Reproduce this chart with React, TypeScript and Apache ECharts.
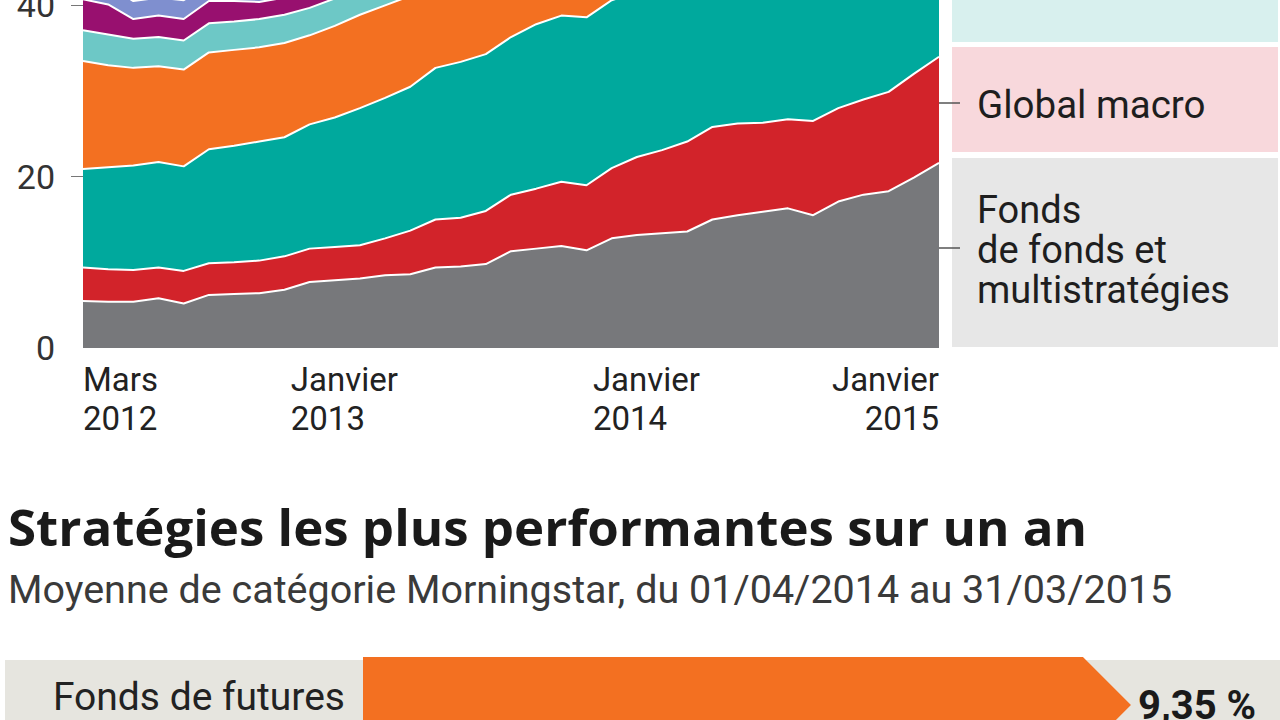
import React, { useEffect, useRef } from "react";
import * as echarts from "echarts";

const months = [
  "2012-03", "2012-04", "2012-05", "2012-06", "2012-07", "2012-08", "2012-09", "2012-10", "2012-11", "2012-12",
  "2013-01", "2013-02", "2013-03", "2013-04", "2013-05", "2013-06", "2013-07", "2013-08", "2013-09", "2013-10",
  "2013-11", "2013-12", "2014-01", "2014-02", "2014-03", "2014-04", "2014-05", "2014-06", "2014-07", "2014-08",
  "2014-09", "2014-10", "2014-11", "2014-12", "2015-01",
];
const xLabelIndex = [0, 10, 22, 34];
const xLabelLine1 = ["Mars", "Janvier", "Janvier", "Janvier"];
const xLabelLine2 = ["2012", "2013", "2014", "2015"];

const seriesNames = [
  "Fonds de fonds et multistratégies",
  "Global macro",
  "Série 3",
  "Série 4",
  "Série 5",
  "Série 6",
  "Série 7",
];
const seriesColors = ["#77787b", "#d2232a", "#00a99d", "#f37021", "#6dc8c6", "#98106f", "#7f8fcf"];

const grayVals = [5.5, 5.4, 5.4, 5.8, 5.2, 6.2, 6.3, 6.4, 6.8, 7.7, 7.9, 8.1, 8.5, 8.6, 9.4, 9.5, 9.8, 11.3, 11.6, 11.9, 11.4, 12.8, 13.2, 13.4, 13.6, 15.0, 15.5, 15.9, 16.3, 15.5, 17.1, 17.9, 18.3, 19.9, 21.6];
const redVals = [3.9, 3.8, 3.7, 3.6, 3.8, 3.7, 3.7, 3.8, 3.9, 3.9, 3.9, 3.9, 4.3, 5.1, 5.6, 5.7, 6.2, 6.6, 7.0, 7.5, 7.6, 8.2, 9.1, 9.7, 10.5, 10.8, 10.7, 10.4, 10.4, 11.0, 10.9, 11.1, 11.6, 12.1, 12.4];
const tealVals = [11.5, 11.9, 12.2, 12.3, 12.2, 13.3, 13.6, 13.9, 13.9, 14.5, 15.1, 16.0, 16.4, 16.8, 17.7, 18.2, 18.3, 18.4, 19.2, 19.4, 19.6, 19.6, 19.2, 19.2, 18.9, 18.4, 18.6, 19.0, 19.2, 19.5, 19.2, 19.0, 19.2, 18.5, 18.0];
const orangeVals = [12.6, 11.9, 11.4, 11.2, 11.3, 11.3, 11.2, 11.0, 11.0, 10.4, 10.7, 10.9, 10.8, 10.6, 10.2, 10.0, 10.1, 10.3, 10.0, 9.8, 9.9, 9.7, 9.6, 9.5, 9.4, 9.3, 9.3, 9.2, 9.1, 9.2, 9.0, 8.9, 8.8, 8.8, 8.7];
const lightTealVals = [3.6, 3.6, 3.4, 3.4, 3.4, 3.4, 3.3, 3.3, 3.3, 3.2, 3.2, 3.1, 3.1, 3.0, 3.0, 3.0, 2.9, 2.9, 2.9, 2.8, 2.8, 2.8, 2.8, 2.7, 2.7, 2.7, 2.7, 2.6, 2.6, 2.6, 2.6, 2.5, 2.5, 2.5, 2.5];
const purpleVals = [3.6, 3.5, 2.3, 2.5, 2.5, 2.6, 2.4, 2.0, 2.0, 2.0, 1.9, 1.9, 1.9, 1.9, 1.8, 1.8, 1.8, 1.8, 1.8, 1.7, 1.7, 1.7, 1.7, 1.7, 1.6, 1.6, 1.6, 1.6, 1.6, 1.5, 1.5, 1.5, 1.5, 1.5, 1.5];
const blueVals = [2.2, 2.2, 2.1, 2.1, 2.2, 2.0, 2.0, 1.9, 1.9, 1.9, 1.8, 1.8, 1.8, 1.8, 1.7, 1.7, 1.7, 1.7, 1.6, 1.6, 1.6, 1.6, 1.5, 1.5, 1.5, 1.5, 1.5, 1.4, 1.4, 1.4, 1.4, 1.4, 1.3, 1.3, 1.3];

const barCategories = ["Fonds de futures"];
const barValues = [9.35];
const barLabels = ["9,35 %"];

const titleText = "Stratégies les plus performantes sur un an";
const subtitleText = "Moyenne de catégorie Morningstar, du 01/04/2014 au 31/03/2015";
const labelGlobalMacro = "Global macro";
const labelFonds = "Fonds\nde fonds et\nmultistratégies";

const FONT = "Roboto, 'Noto Sans', sans-serif";
const TITLE_FONT = "'Open Sans', Roboto, sans-serif";
const OFF = 183; // the chart canvas starts above the visible page (top of chart is cropped)
const H = 943;

export default function App() {
  const ref = useRef<HTMLDivElement>(null);

  useEffect(() => {
    if (!ref.current) return;
    const chart = echarts.init(ref.current, null, { renderer: "svg" });
    const allVals = [grayVals, redVals, tealVals, orangeVals, lightTealVals, purpleVals, blueVals];

    const areaSeries = allVals.map((vals, i) => ({
      name: seriesNames[i],
      type: "line",
      xAxisIndex: 0,
      yAxisIndex: 0,
      stack: "total",
      data: vals,
      symbol: "none",
      z: 20 - i,
      lineStyle: { color: "#ffffff", width: 2 },
      areaStyle: { color: seriesColors[i], opacity: 1 },
    }));

    const option: any = {
      animation: false,
      textStyle: { fontFamily: FONT },
      grid: [
        { left: 83, right: 341, top: 0, bottom: H - (348 + OFF) },
        { left: 363, right: 147, top: 657 + OFF, bottom: H - (657 + OFF + 96) },
      ],
      xAxis: [
        {
          gridIndex: 0,
          type: "category",
          data: months,
          boundaryGap: false,
          axisLine: { show: false },
          axisTick: { show: false },
          splitLine: { show: false },
          axisLabel: {
            interval: (i: number) => xLabelIndex.indexOf(i) >= 0,
            formatter: (_v: string, i: number) => {
              const k = xLabelIndex.indexOf(i);
              if (k < 0) return "";
              const st = k === 0 || k === xLabelIndex.length - 1 ? "e" : "m";
              return `{${st}|${xLabelLine1[k]}}\n{${st}|${xLabelLine2[k]}}`;
            },
            rich: {
              e: { fontSize: 33, lineHeight: 39, color: "#222222", fontFamily: FONT },
              m: { fontSize: 33, lineHeight: 39, color: "#222222", fontFamily: FONT, width: 44, align: "left" },
            },
            showMinLabel: true,
            showMaxLabel: true,
            align: "right",
            alignMinLabel: "left",
            alignMaxLabel: "right",
            fontSize: 33,
            lineHeight: 39,
            color: "#222222",
            margin: 12,
            fontFamily: FONT,
          },
        },
        { gridIndex: 1, type: "value", min: 0, max: 10, show: false },
      ],
      yAxis: [
        {
          gridIndex: 0,
          type: "value",
          min: 0,
          max: 60,
          interval: 20,
          splitLine: { show: false },
          axisLine: { show: false },
          axisTick: { show: true, length: 12, customValues: [20, 40, 60], lineStyle: { color: "#777777", width: 1 } },
          axisLabel: { fontSize: 34, color: "#333333", margin: 28, fontFamily: FONT },
        },
        {
          gridIndex: 1,
          type: "category",
          data: barCategories,
          axisLine: { show: false },
          axisTick: { show: false },
          splitLine: { show: false },
          axisLabel: {
            fontSize: 39,
            color: "#222222",
            margin: 18,
            fontFamily: FONT,
            lineHeight: 16,
            verticalAlign: "bottom",
          },
        },
      ],
      series: [
        ...areaSeries,
        {
          type: "custom",
          xAxisIndex: 1,
          yAxisIndex: 1,
          data: barValues.map((v, i) => [v, i]),
          z: 5,
          renderItem: (params: any, api: any) => {
            const v = api.value(0);
            const c = api.value(1);
            const start = api.coord([0, c]);
            const end = api.coord([v, c]);
            const h = api.size([0, 1])[1];
            const top = start[1] - h / 2;
            const bot = start[1] + h / 2;
            const tip = h / 2;
            return {
              type: "group",
              children: [
                {
                  type: "polygon",
                  shape: {
                    points: [
                      [start[0], top],
                      [end[0], top],
                      [end[0] + tip, start[1]],
                      [end[0], bot],
                      [start[0], bot],
                    ],
                  },
                  style: { fill: "#f37021" },
                },
                {
                  type: "text",
                  x: end[0] + tip + 7,
                  y: start[1],
                  style: {
                    text: barLabels[params.dataIndex],
                    fontSize: 40,
                    fontWeight: "bold",
                    fontFamily: FONT,
                    fill: "#1a1a1a",
                    align: "left",
                    verticalAlign: "middle",
                  },
                },
              ],
            };
          },
        },
      ],
      graphic: [
        { type: "rect", shape: { x: 952, y: OFF - 10, width: 326, height: 52 }, style: { fill: "#d8f0ee" } },
        { type: "rect", shape: { x: 952, y: OFF + 47, width: 326, height: 105 }, style: { fill: "#f8d8dc" } },
        { type: "rect", shape: { x: 952, y: OFF + 158, width: 326, height: 189 }, style: { fill: "#e7e7e7" } },
        { type: "line", shape: { x1: 938, y1: OFF + 103, x2: 960, y2: OFF + 103 }, style: { stroke: "#555555", lineWidth: 1.5 } },
        { type: "line", shape: { x1: 938, y1: OFF + 248, x2: 960, y2: OFF + 248 }, style: { stroke: "#555555", lineWidth: 1.5 } },
        {
          type: "text",
          x: 977,
          y: OFF + 104,
          style: { text: labelGlobalMacro, fontSize: 38.5, fontFamily: FONT, fill: "#1e1e1e", verticalAlign: "middle" },
        },
        {
          type: "text",
          x: 977,
          y: OFF + 250,
          style: { text: labelFonds, fontSize: 38, lineHeight: 40, fontFamily: FONT, fill: "#1e1e1e", verticalAlign: "middle" },
        },
        {
          type: "text",
          x: 8,
          y: OFF + 526,
          style: { text: titleText, fontSize: 51, fontWeight: "bold", fontFamily: TITLE_FONT, fill: "#1a1a1a", verticalAlign: "middle" },
        },
        {
          type: "text",
          x: 8,
          y: OFF + 589,
          style: { text: subtitleText, fontSize: 39.5, fontFamily: FONT, fill: "#3a3a3a", verticalAlign: "middle" },
        },
        { type: "rect", z: -1, shape: { x: 5, y: OFF + 660, width: 1275, height: 100 }, style: { fill: "#e6e5df" } },
      ],
    };

    chart.setOption(option);
    return () => chart.dispose();
  }, []);

  return (
    <div style={{ position: "absolute", left: 0, top: 0, width: 1280, height: 720, overflow: "hidden", background: "#ffffff" }}>
      <div ref={ref} style={{ position: "absolute", left: 0, top: -OFF, width: 1280, height: H }} />
    </div>
  );
}
